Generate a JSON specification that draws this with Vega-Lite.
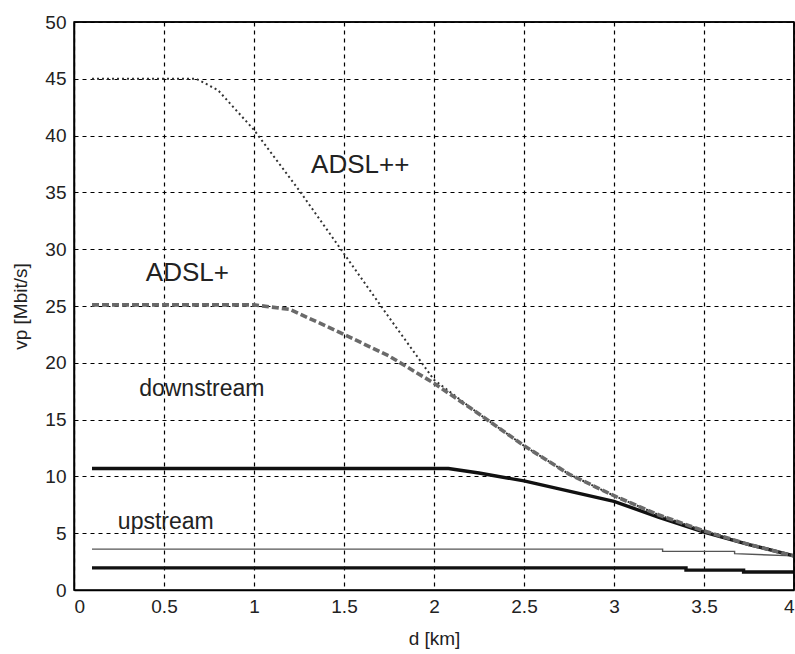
{
  "$schema": "https://vega.github.io/schema/vega-lite/v6.json",
  "width": 720,
  "height": 568,
  "autosize": "none",
  "padding": {"left": 74, "top": 22, "right": 1, "bottom": 64},
  "background": "white",
  "config": {
    "font": "Liberation Sans",
    "view": {"stroke": "black", "strokeWidth": 1.5},
    "axis": {
      "grid": true,
      "gridColor": "black",
      "gridDash": [4, 4],
      "gridOpacity": 1,
      "gridWidth": 1.2,
      "ticks": false,
      "domain": true,
      "domainColor": "black",
      "domainWidth": 1.5,
      "labelFont": "Liberation Sans",
      "labelFontSize": 19,
      "labelColor": "#222",
      "titleFont": "Liberation Sans",
      "titleFontSize": 19,
      "titleFontWeight": "normal",
      "titleColor": "#222"
    }
  },
  "datasets": {
    "curves": [
      {"series": "ADSL++", "i": 1, "d": 0.1, "v": 45.0},
      {"series": "ADSL++", "i": 2, "d": 0.68, "v": 45.0},
      {"series": "ADSL++", "i": 3, "d": 0.8, "v": 44.0},
      {"series": "ADSL++", "i": 4, "d": 1.0, "v": 40.5},
      {"series": "ADSL++", "i": 5, "d": 1.25, "v": 35.2},
      {"series": "ADSL++", "i": 6, "d": 1.5, "v": 29.6},
      {"series": "ADSL++", "i": 7, "d": 1.75, "v": 24.0},
      {"series": "ADSL++", "i": 8, "d": 2.0, "v": 18.5},
      {"series": "ADSL++", "i": 9, "d": 2.25, "v": 15.5},
      {"series": "ADSL++", "i": 10, "d": 2.5, "v": 12.7},
      {"series": "ADSL++", "i": 11, "d": 2.75, "v": 10.2},
      {"series": "ADSL++", "i": 12, "d": 3.0, "v": 8.3},
      {"series": "ADSL++", "i": 13, "d": 3.25, "v": 6.6},
      {"series": "ADSL++", "i": 14, "d": 3.5, "v": 5.2},
      {"series": "ADSL++", "i": 15, "d": 3.75, "v": 4.0},
      {"series": "ADSL++", "i": 16, "d": 4.0, "v": 3.0},
      {"series": "ADSL+", "i": 1, "d": 0.1, "v": 25.1},
      {"series": "ADSL+", "i": 2, "d": 1.0, "v": 25.1},
      {"series": "ADSL+", "i": 3, "d": 1.2, "v": 24.7},
      {"series": "ADSL+", "i": 4, "d": 1.5, "v": 22.5},
      {"series": "ADSL+", "i": 5, "d": 1.75, "v": 20.6},
      {"series": "ADSL+", "i": 6, "d": 2.0, "v": 18.2},
      {"series": "ADSL+", "i": 7, "d": 2.25, "v": 15.5},
      {"series": "ADSL+", "i": 8, "d": 2.5, "v": 12.7},
      {"series": "ADSL+", "i": 9, "d": 2.75, "v": 10.2},
      {"series": "ADSL+", "i": 10, "d": 3.0, "v": 8.3},
      {"series": "ADSL+", "i": 11, "d": 3.25, "v": 6.6},
      {"series": "ADSL+", "i": 12, "d": 3.5, "v": 5.2},
      {"series": "ADSL+", "i": 13, "d": 3.75, "v": 4.0},
      {"series": "ADSL+", "i": 14, "d": 4.0, "v": 3.0},
      {"series": "ADSL down", "i": 1, "d": 0.1, "v": 10.7},
      {"series": "ADSL down", "i": 2, "d": 2.08, "v": 10.7},
      {"series": "ADSL down", "i": 3, "d": 2.25, "v": 10.3},
      {"series": "ADSL down", "i": 4, "d": 2.5, "v": 9.6},
      {"series": "ADSL down", "i": 5, "d": 2.75, "v": 8.7},
      {"series": "ADSL down", "i": 6, "d": 3.0, "v": 7.8},
      {"series": "ADSL down", "i": 7, "d": 3.25, "v": 6.4},
      {"series": "ADSL down", "i": 8, "d": 3.5, "v": 5.1},
      {"series": "ADSL down", "i": 9, "d": 3.75, "v": 4.0},
      {"series": "ADSL down", "i": 10, "d": 4.0, "v": 3.0},
      {"series": "ADSL+ up", "i": 1, "d": 0.1, "v": 3.6},
      {"series": "ADSL+ up", "i": 2, "d": 3.27, "v": 3.6},
      {"series": "ADSL+ up", "i": 3, "d": 3.27, "v": 3.4},
      {"series": "ADSL+ up", "i": 4, "d": 3.67, "v": 3.4},
      {"series": "ADSL+ up", "i": 5, "d": 3.67, "v": 3.2},
      {"series": "ADSL+ up", "i": 6, "d": 4.0, "v": 3.0},
      {"series": "ADSL up", "i": 1, "d": 0.1, "v": 1.95},
      {"series": "ADSL up", "i": 2, "d": 3.4, "v": 1.95},
      {"series": "ADSL up", "i": 3, "d": 3.4, "v": 1.75},
      {"series": "ADSL up", "i": 4, "d": 3.72, "v": 1.75},
      {"series": "ADSL up", "i": 5, "d": 3.72, "v": 1.58},
      {"series": "ADSL up", "i": 6, "d": 4.0, "v": 1.58}
    ],
    "labels": [
      {"label": "ADSL++", "d": 1.59, "v": 37.4, "size": 26},
      {"label": "ADSL+", "d": 0.63, "v": 27.9, "size": 26},
      {"label": "downstream", "d": 0.71, "v": 17.7, "size": 23},
      {"label": "upstream", "d": 0.51, "v": 6.0, "size": 23}
    ],
    "frame": [
      {"d": 0, "v": 50, "d2": 4, "v2": 50},
      {"d": 4, "v": 0, "d2": 4, "v2": 50}
    ]
  },
  "encoding": {
    "x": {
      "field": "d", "type": "quantitative",
      "scale": {"domain": [0, 4], "nice": false, "zero": false},
      "axis": {"values": [0, 0.5, 1, 1.5, 2, 2.5, 3, 3.5, 4], "format": "~g", "title": "d [km]", "labelPadding": 7, "titlePadding": 13}
    },
    "y": {
      "field": "v", "type": "quantitative",
      "scale": {"domain": [0, 50], "nice": false},
      "axis": {"values": [0, 5, 10, 15, 20, 25, 30, 35, 40, 45, 50], "title": "vp [Mbit/s]", "labelPadding": 8, "titlePadding": 14}
    }
  },
  "layer": [
    {
      "data": {"name": "curves"},
      "transform": [{"filter": "datum.series === 'ADSL+ up'"}],
      "mark": {"type": "line", "color": "#555555", "strokeWidth": 1.4},
      "encoding": {"order": {"field": "i", "type": "quantitative"}}
    },
    {
      "data": {"name": "curves"},
      "transform": [{"filter": "datum.series === 'ADSL up'"}],
      "mark": {"type": "line", "color": "#111111", "strokeWidth": 3.4},
      "encoding": {"order": {"field": "i", "type": "quantitative"}}
    },
    {
      "data": {"name": "curves"},
      "transform": [{"filter": "datum.series === 'ADSL down'"}],
      "mark": {"type": "line", "color": "#111111", "strokeWidth": 3.4},
      "encoding": {"order": {"field": "i", "type": "quantitative"}}
    },
    {
      "data": {"name": "curves"},
      "transform": [{"filter": "datum.series === 'ADSL++'"}],
      "mark": {"type": "line", "color": "#333333", "strokeWidth": 2, "strokeDash": [2, 3]},
      "encoding": {"order": {"field": "i", "type": "quantitative"}}
    },
    {
      "data": {"name": "curves"},
      "transform": [{"filter": "datum.series === 'ADSL+'"}],
      "mark": {"type": "line", "color": "#6a6a6a", "strokeWidth": 3.6, "strokeDash": [7, 3]},
      "encoding": {"order": {"field": "i", "type": "quantitative"}}
    },
    {
      "data": {"name": "frame"},
      "mark": {"type": "rule", "color": "black", "strokeWidth": 1.5},
      "encoding": {
        "x2": {"field": "d2"},
        "y2": {"field": "v2"}
      }
    },
    {
      "data": {"name": "labels"},
      "mark": {"type": "text", "font": "Liberation Sans", "color": "#222", "align": "center", "baseline": "middle"},
      "encoding": {
        "text": {"field": "label"},
        "size": {"field": "size", "type": "quantitative", "scale": null}
      }
    }
  ]
}
